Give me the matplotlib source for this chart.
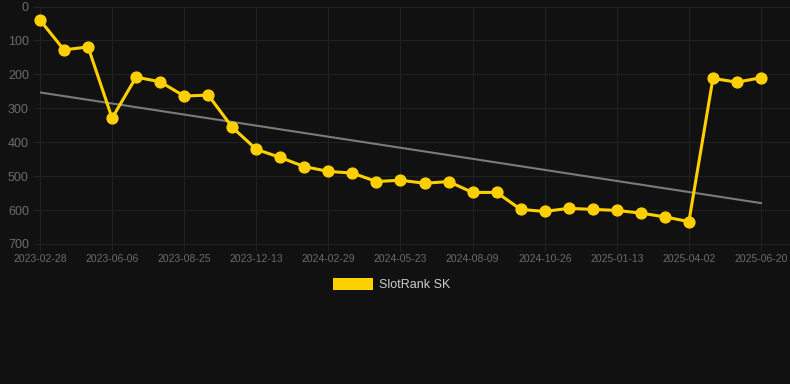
"""SlotRank SK rank history with linear trend, dark theme."""

import matplotlib
matplotlib.use("Agg")
import matplotlib.pyplot as plt
import numpy as np

# rank per sample (lower is better, axis is inverted)
ranks = [40, 128, 119, 329, 208, 222, 264, 261, 356, 421, 445, 472, 486,
         491, 516, 512, 521, 516, 548, 548, 598, 604, 595, 598, 601, 609,
         620, 634, 212, 223, 210]
tick_labels = ["2023-02-28", "2023-06-06", "2023-08-25", "2023-12-13",
               "2024-02-29", "2024-05-23", "2024-08-09", "2024-10-26",
               "2025-01-13", "2025-04-02", "2025-06-20"]
y_ticks = [0, 100, 200, 300, 400, 500, 600, 700]
series_name = "SlotRank SK"

BG = "#111111"
GRID = "#212121"
TICK_TXT = "#6b6b6b"
YELLOW = "#ffd000"
TREND = "#7a7a7a"

plt.rcParams["font.family"] = ["Liberation Sans", "DejaVu Sans"]

fig = plt.figure(figsize=(7.9, 3.84), dpi=100)
fig.patch.set_facecolor(BG)
ax = fig.add_axes([40 / 790, 1 - 244 / 384, 750 / 790, (244 - 6.5) / 384])
ax.set_facecolor(BG)

x = np.arange(len(ranks))

# linear trend over the whole series
slope, intercept = np.polyfit(x, ranks, 1)
ax.plot(x, slope * x + intercept, color=TREND, linewidth=1.5, zorder=2)

ax.plot(x, ranks, color=YELLOW, linewidth=2.2, marker="o", markersize=7.8,
        zorder=3, clip_on=False)

ax.set_xlim(0, 30 + 29 / 24.03)
ax.set_ylim(700, 0)
ax.set_xticks(x[::3])
ax.set_xticklabels(tick_labels)
ax.set_yticks(y_ticks)

ax.grid(True, color=GRID, linewidth=0.8)
ax.tick_params(axis="x", colors=GRID, labelcolor=TICK_TXT, labelsize=7.5,
               length=5, width=0.8, pad=2)
ax.tick_params(axis="y", colors=GRID, labelcolor=TICK_TXT, labelsize=9,
               length=5, width=0.8, pad=3)
for side in ["top", "right", "left"]:
    ax.spines[side].set_visible(False)
ax.spines["bottom"].set_color(GRID)
ax.spines["bottom"].set_linewidth(0.8)

# legend drawn as a swatch + label below the chart
fig.patches.append(plt.Rectangle((333 / 790, 1 - 290 / 384), 40 / 790, 12 / 384,
                                 transform=fig.transFigure, facecolor=YELLOW,
                                 edgecolor="none"))
fig.text(379 / 790, 1 - 284.5 / 384, series_name, color="#cccccc", fontsize=9,
         va="center", ha="left")

fig.savefig("out.png", dpi=100, facecolor=BG)
